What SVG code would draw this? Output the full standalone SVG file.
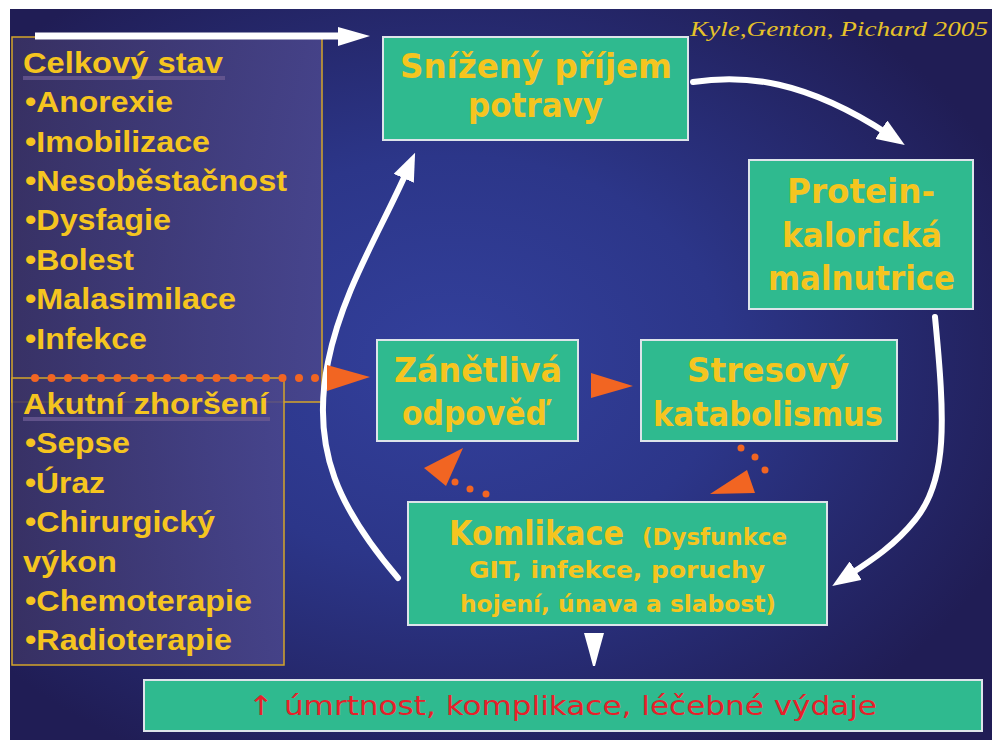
<svg xmlns="http://www.w3.org/2000/svg" width="995" height="740" viewBox="0 0 995 740">
<defs>
<radialGradient id="bg" cx="45%" cy="48%" r="62%">
<stop offset="0" stop-color="#33409c"/>
<stop offset="0.45" stop-color="#2c3689"/>
<stop offset="1" stop-color="#201d55"/>
</radialGradient>
<linearGradient id="lbox" x1="0" y1="0" x2="1" y2="0">
<stop offset="0" stop-color="#3b3364"/>
<stop offset="1" stop-color="#4a468c"/>
</linearGradient>
<marker id="wh" viewBox="0 0 28 22" refX="8" refY="11" markerWidth="28" markerHeight="22" markerUnits="userSpaceOnUse" orient="auto">
<path d="M0,0 L28,11 L0,22 z" fill="#ffffff"/>
</marker>
<style>
.gbox{fill:#2fba8f;stroke:#dde4ea;stroke-width:2}
.lbox{fill:url(#lbox);fill-opacity:0.85;stroke:#d4a52a;stroke-width:1.5}
.lt{font-family:"Liberation Sans",Arial,sans-serif;font-weight:bold;font-size:30px;fill:#f5c51f}
.bt{font-family:"DejaVu Sans",sans-serif;font-weight:bold;font-size:34px;fill:#f5c51f}
.st{font-family:"DejaVu Sans",sans-serif;font-weight:bold;font-size:23px;fill:#f5c51f}
.wl{fill:none;stroke:#ffffff;stroke-width:6;stroke-linecap:round}
.or{fill:#f26522}
</style>
</defs>
<rect x="0" y="0" width="995" height="740" fill="#ffffff"/>
<rect x="10" y="9" width="982" height="731" fill="url(#bg)"/>

<text x="690" y="36" font-family="'Liberation Serif','Times New Roman',serif" font-style="italic" font-size="21" fill="#e6c229" textLength="298" lengthAdjust="spacingAndGlyphs">Kyle,Genton, Pichard 2005</text>

<g id="celkovy-stav">
<rect class="lbox" x="12" y="37" width="310" height="365"/>
<rect x="23" y="76" width="202" height="4" fill="#6a5a92" opacity="0.8"/>
<text class="lt" x="23" y="73" textLength="200" lengthAdjust="spacingAndGlyphs">Celkový stav</text>
<text class="lt" x="25" y="112" textLength="148" lengthAdjust="spacingAndGlyphs">•Anorexie</text>
<text class="lt" x="25" y="152" textLength="185" lengthAdjust="spacingAndGlyphs">•Imobilizace</text>
<text class="lt" x="25" y="191" textLength="262" lengthAdjust="spacingAndGlyphs">•Nesoběstačnost</text>
<text class="lt" x="25" y="230" textLength="146" lengthAdjust="spacingAndGlyphs">•Dysfagie</text>
<text class="lt" x="25" y="270" textLength="109" lengthAdjust="spacingAndGlyphs">•Bolest</text>
<text class="lt" x="25" y="309" textLength="211" lengthAdjust="spacingAndGlyphs">•Malasimilace</text>
<text class="lt" x="25" y="349" textLength="122" lengthAdjust="spacingAndGlyphs">•Infekce</text>
</g>

<g id="akutni-zhorseni">
<rect class="lbox" x="12" y="378" width="272" height="287"/>
<rect x="23" y="417" width="247" height="4" fill="#6a5a92" opacity="0.8"/>
<text class="lt" x="23" y="414" textLength="245" lengthAdjust="spacingAndGlyphs">Akutní zhoršení</text>
<text class="lt" x="25" y="453" textLength="105" lengthAdjust="spacingAndGlyphs">•Sepse</text>
<text class="lt" x="25" y="493" textLength="80" lengthAdjust="spacingAndGlyphs">•Úraz</text>
<text class="lt" x="25" y="532" textLength="190" lengthAdjust="spacingAndGlyphs">•Chirurgický</text>
<text class="lt" x="23" y="572" textLength="94" lengthAdjust="spacingAndGlyphs">výkon</text>
<text class="lt" x="25" y="611" textLength="227" lengthAdjust="spacingAndGlyphs">•Chemoterapie</text>
<text class="lt" x="25" y="650" textLength="207" lengthAdjust="spacingAndGlyphs">•Radioterapie</text>
</g>

<g id="snizeny-prijem">
<rect class="gbox" x="383" y="37" width="305" height="103"/>
<text class="bt" x="400" y="78" textLength="272" lengthAdjust="spacingAndGlyphs">Snížený příjem</text>
<text class="bt" x="468" y="117" textLength="135" lengthAdjust="spacingAndGlyphs">potravy</text>
</g>

<g id="protein-kaloricka">
<rect class="gbox" x="749" y="160" width="224" height="149"/>
<text class="bt" x="787" y="203" textLength="148" lengthAdjust="spacingAndGlyphs">Protein-</text>
<text class="bt" x="782" y="247" textLength="160" lengthAdjust="spacingAndGlyphs">kalorická</text>
<text class="bt" x="768" y="290" textLength="187" lengthAdjust="spacingAndGlyphs">malnutrice</text>
</g>

<g id="zanetliva">
<rect class="gbox" x="377" y="340" width="201" height="101"/>
<text class="bt" x="394" y="382" textLength="168" lengthAdjust="spacingAndGlyphs">Zánětlivá</text>
<text class="bt" x="402" y="425" textLength="145" lengthAdjust="spacingAndGlyphs">odpověď</text>
</g>

<g id="stresovy">
<rect class="gbox" x="641" y="340" width="256" height="101"/>
<text class="bt" x="687" y="382" textLength="162" lengthAdjust="spacingAndGlyphs">Stresový</text>
<text class="bt" x="653" y="426" textLength="230" lengthAdjust="spacingAndGlyphs">katabolismus</text>
</g>

<g id="komlikace">
<rect class="gbox" x="408" y="502" width="419" height="123"/>
<text class="bt" x="449" y="545" font-size="36" textLength="175" lengthAdjust="spacingAndGlyphs">Komlikace</text>
<text class="st" x="642" y="545" textLength="145" lengthAdjust="spacingAndGlyphs">(Dysfunkce</text>
<text class="st" x="469" y="578" textLength="296" lengthAdjust="spacingAndGlyphs">GIT, infekce, poruchy</text>
<text class="st" x="460" y="612" textLength="316" lengthAdjust="spacingAndGlyphs">hojení, únava a slabost)</text>
</g>

<g id="vysledek">
<rect class="gbox" x="144" y="680" width="838" height="51"/>
<text x="248" y="715" font-family="'DejaVu Sans',sans-serif" font-size="27" fill="#e8202a" textLength="629" lengthAdjust="spacingAndGlyphs">↑ úmrtnost, komplikace, léčebné výdaje</text>
</g>

<g id="connectors">
<line x1="35" y1="36" x2="345" y2="36" stroke="#ffffff" stroke-width="7"/>
<polygon points="338,27 370,36 338,46" fill="#ffffff"/>
<path class="wl" d="M693,82 C745,74 805,80 888,134" marker-end="url(#wh)"/>
<path class="wl" d="M935,317 C945,420 948,480 915,520 C895,545 872,560 849,575" marker-end="url(#wh)"/>
<path class="wl" d="M398,578 C340,510 310,450 328,362 C342,292 380,232 407,171" marker-end="url(#wh)"/>
<polygon points="584,633 604,633 599,651 595,666 593,666 589,651" fill="#ffffff"/>
<g class="or">
<circle cx="35" cy="378" r="4"/><circle cx="51.5" cy="378" r="4"/><circle cx="68" cy="378" r="4"/><circle cx="84.5" cy="378" r="4"/><circle cx="101" cy="378" r="4"/><circle cx="117.5" cy="378" r="4"/><circle cx="134" cy="378" r="4"/><circle cx="150.5" cy="378" r="4"/><circle cx="167" cy="378" r="4"/><circle cx="183.5" cy="378" r="4"/><circle cx="200" cy="378" r="4"/><circle cx="216.5" cy="378" r="4"/><circle cx="233" cy="378" r="4"/><circle cx="249.5" cy="378" r="4"/><circle cx="266" cy="378" r="4"/><circle cx="282.5" cy="378" r="4"/><circle cx="299" cy="378" r="4"/><circle cx="315" cy="378" r="4"/>
<polygon points="327,365 370,377 327,391"/>
<polygon points="591,373 633,386 591,398"/>
<circle cx="486" cy="494" r="3.5"/><circle cx="470" cy="489" r="3.5"/><circle cx="455" cy="482" r="3.5"/>
<polygon points="424,468 463,448 446,486"/>
<circle cx="741" cy="448" r="3.5"/><circle cx="755" cy="457" r="3.5"/><circle cx="765" cy="470" r="3.5"/>
<polygon points="710,494 747,470 755,493"/>
</g>
</g>
</svg>
